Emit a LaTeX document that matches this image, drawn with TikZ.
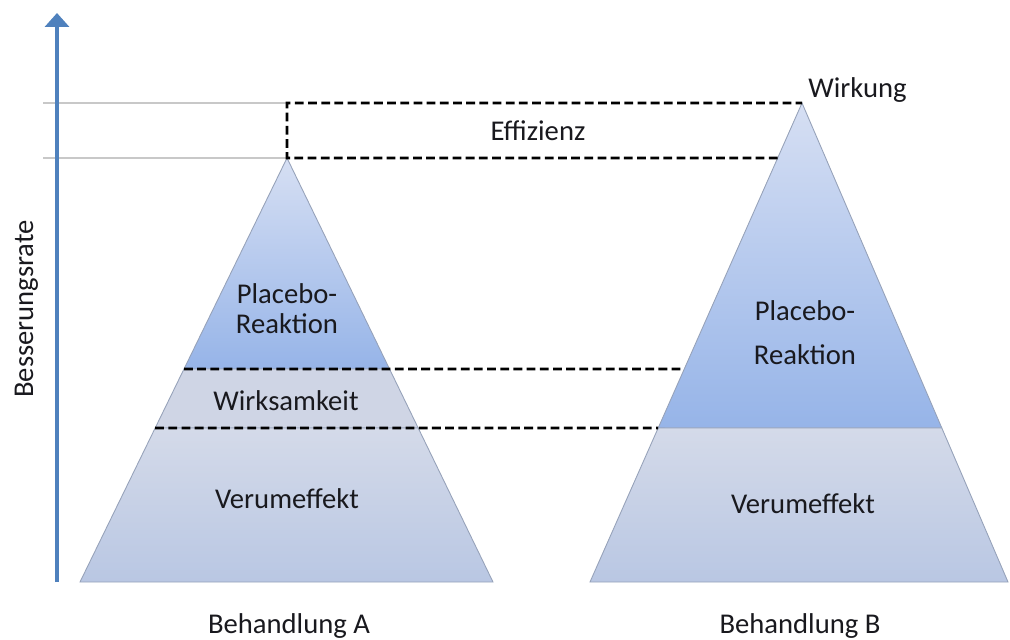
\documentclass[tikz,border=0pt]{standalone}
\usepackage{fontspec}
\setmainfont{Carlito}
\usetikzlibrary{calc}
\usetikzlibrary{arrows.meta}

\definecolor{axisblue}{RGB}{79,129,189}
\definecolor{gridgrey}{RGB}{200,200,200}
\definecolor{edgegrey}{RGB}{150,162,185}
\definecolor{placebotop}{RGB}{214,223,243}
\definecolor{placebobot}{RGB}{150,180,232}
\definecolor{verumtop}{RGB}{212,218,233}
\definecolor{verumbot}{RGB}{185,199,227}
\definecolor{wirkband}{RGB}{207,213,229}
\definecolor{labeltext}{RGB}{25,25,30}

\tikzset{
  lbl/.style={font=\fontsize{16.3}{19.5}\selectfont, text=labeltext, inner sep=0pt},
  levelline/.style={black, line width=1.6pt, dash pattern=on 5pt off 2.5pt},
  gridline/.style={gridgrey, line width=0.8pt},
  band/.style={draw=edgegrey, line width=0.5pt},
}

\begin{document}
\begin{tikzpicture}
    \useasboundingbox (0,0) rectangle (20.2,12.78);

    % Triangle corners
    \coordinate (apexA) at (5.74, 9.62);
    \coordinate (leftA) at (1.6, 1.14);
    \coordinate (rightA) at (9.86, 1.14);
    \coordinate (apexB) at (16.04, 10.72);
    \coordinate (leftB) at (11.8, 1.14);
    \coordinate (rightB) at (20.16, 1.14);

    % Levels (placebo bottom, verum top, box bottom)
    \coordinate (lvlP0) at (0, 5.4);   \coordinate (lvlP1) at (20, 5.4);
    \coordinate (lvlV0) at (0, 4.22);  \coordinate (lvlV1) at (20, 4.22);
    \coordinate (lvlE0) at (0, 9.62);  \coordinate (lvlE1) at (20, 9.62);

    \coordinate (pAl) at (intersection of apexA--leftA and lvlP0--lvlP1);
    \coordinate (pAr) at (intersection of apexA--rightA and lvlP0--lvlP1);
    \coordinate (vAl) at (intersection of apexA--leftA and lvlV0--lvlV1);
    \coordinate (vAr) at (intersection of apexA--rightA and lvlV0--lvlV1);
    \coordinate (pBl) at (intersection of apexB--leftB and lvlP0--lvlP1);
    \coordinate (vBl) at (intersection of apexB--leftB and lvlV0--lvlV1);
    \coordinate (vBr) at (intersection of apexB--rightB and lvlV0--lvlV1);
    \coordinate (eBl) at (intersection of apexB--leftB and lvlE0--lvlE1);

    % Grey guide lines
    \draw[gridline] (0.86, 10.72) -- (apexA |- apexB);
    \draw[gridline] (0.86, 9.62) -- (apexA);

    % Axis
    \coordinate (axis0) at (1.14, 1.14);
    \coordinate (axis1) at (1.14, 12.52);
    \draw[axisblue, line width=2.3pt, -{Triangle[width=0.48cm, length=0.28cm]}] (axis0) -- (axis1);
    \node[lbl, rotate=90, anchor=base] (ylabel) at (0.66, 6.6) {Besserungsrate};

    % Treatment A
    \path[band, top color=placebotop, bottom color=placebobot] (apexA) -- (pAr) -- (pAl) -- cycle;
    \path[band, fill=wirkband] (pAl) -- (pAr) -- (vAr) -- (vAl) -- cycle;
    \path[band, top color=verumtop, bottom color=verumbot] (vAl) -- (vAr) -- (rightA) -- (leftA) -- cycle;

    % Treatment B
    \path[band, top color=placebotop, bottom color=placebobot] (apexB) -- (vBr) -- (vBl) -- cycle;
    \path[band, top color=verumtop, bottom color=verumbot] (vBl) -- (vBr) -- (rightB) -- (leftB) -- cycle;

    % Dashed level lines
    \draw[levelline] (pAl) -- (pBl);
    \draw[levelline] (vAl) -- (vBl);

    % Efficiency box
    \draw[levelline] (eBl) -- (apexA) -- (apexA |- apexB) -- (apexB);
    \node[lbl, anchor=base] (effizienz) at (10.76, 9.96) {Effizienz};
    \node[lbl, anchor=base west] (wirkung) at (16.16, 10.82) {Wirkung};

    % Labels A
    \node[lbl, align=center, font=\fontsize{16.3}{17}\selectfont] (placeboA) at (5.74, 6.6) {Placebo-\\Reaktion};
    \node[lbl, anchor=base] (wirksam) at (5.72, 4.58) {Wirksamkeit};
    \node[lbl, anchor=base] (verumA) at (5.74, 2.62) {Verumeffekt};
    \node[lbl, anchor=base] (behA) at (5.78, 0.12) {Behandlung A};

    % Labels B
    \node[lbl, align=center, font=\fontsize{16.3}{25}\selectfont] (placeboB) at (16.1, 6.12) {Placebo-\\Reaktion};
    \node[lbl, anchor=base] (verumB) at (16.06, 2.52) {Verumeffekt};
    \node[lbl, anchor=base] (behB) at (16.0, 0.12) {Behandlung B};
\end{tikzpicture}
\end{document}
